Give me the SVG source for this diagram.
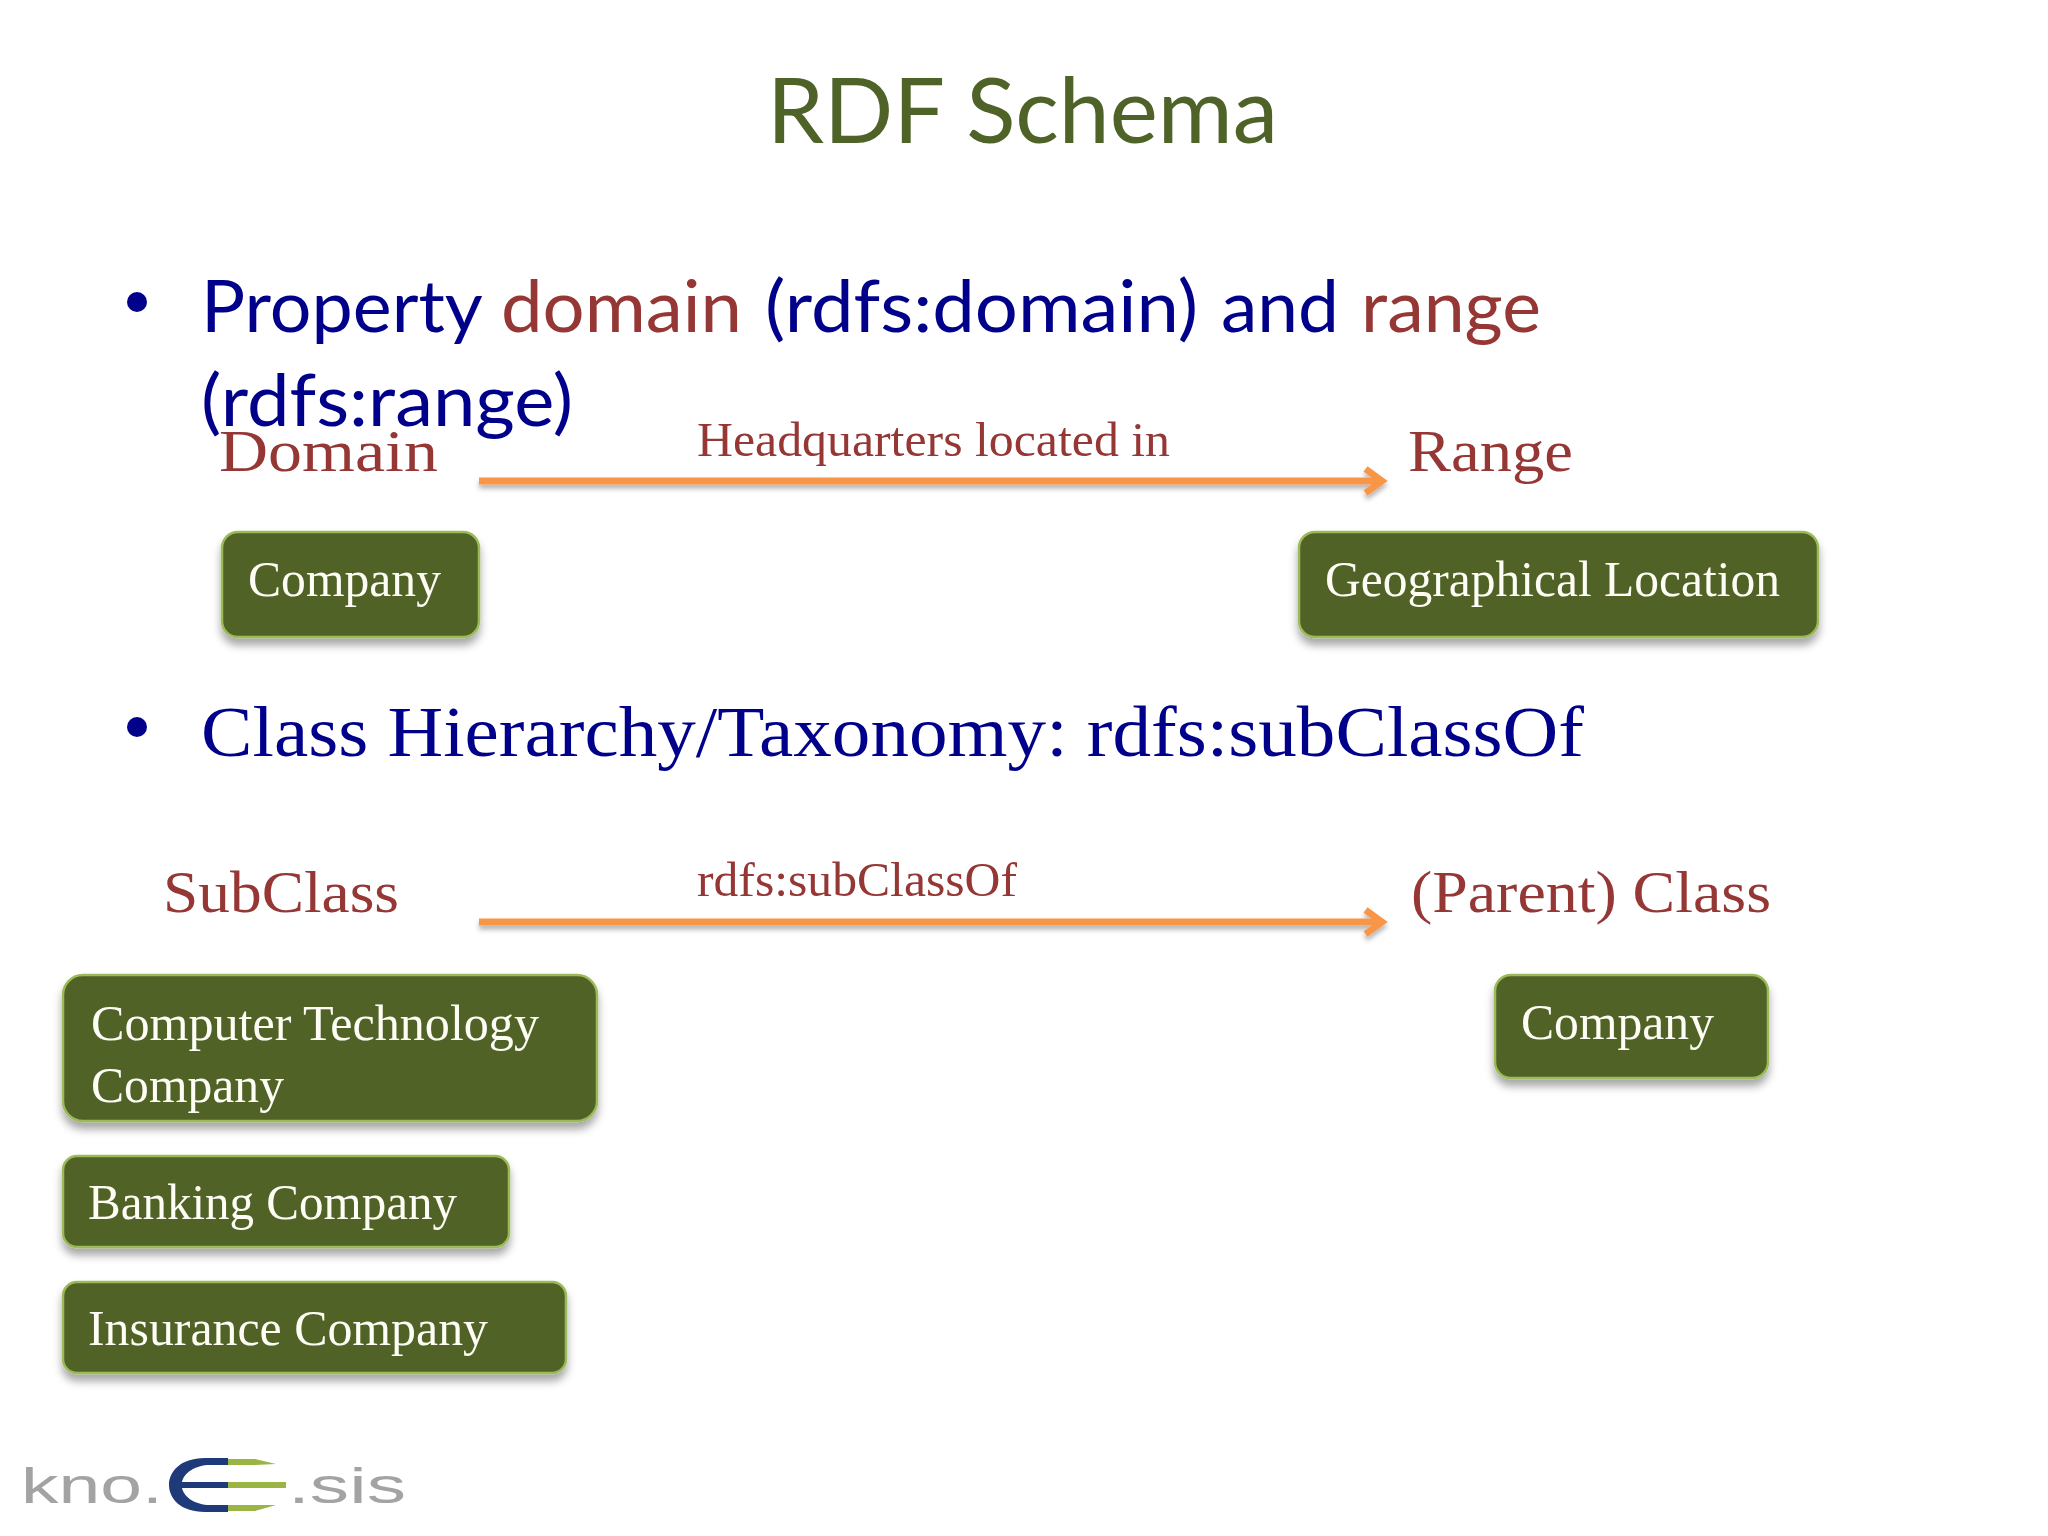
<svg xmlns="http://www.w3.org/2000/svg" width="2048" height="1536" viewBox="0 0 2048 1536">
<defs>
<style>
.sans{font-family:Lato,"Open Sans",sans-serif}
.serif{font-family:"Liberation Serif",serif}
.blue{fill:#00008b}
.red{fill:#953735}
.white{fill:#fdfdf5;font-size:50px}
.box{fill:#516228;stroke:#9bbb59;stroke-width:2.5;filter:url(#sh)}
.arr{stroke:#f79646;stroke-width:7;fill:none;filter:url(#lsh)}
.big{font-size:72px}
.lab{font-size:60px}
.small{font-size:48px}
.logo{font-family:"Liberation Sans",sans-serif;font-size:50px;fill:#a3a3a3}
</style>
<filter id="sh" x="-10%" y="-15%" width="120%" height="140%"><feDropShadow dx="0" dy="7" stdDeviation="4" flood-color="#000" flood-opacity=".35"/></filter>
<filter id="lsh" filterUnits="userSpaceOnUse" x="0" y="0" width="2048" height="1536"><feDropShadow dx="0" dy="4" stdDeviation="2.5" flood-color="#000" flood-opacity=".3"/></filter>
<marker id="ah" viewBox="0 0 20 20" refX="16" refY="10" markerWidth="30" markerHeight="30" markerUnits="userSpaceOnUse" orient="auto"><path d="M5 2 L16 10 L5 18" fill="none" stroke="#f79646" stroke-width="4.5"/></marker>
</defs>
<rect width="2048" height="1536" fill="#fff"/>
<text id="title" class="sans" x="767" y="143" font-size="92" fill="#4f6228" textLength="511" lengthAdjust="spacingAndGlyphs">RDF Schema</text>
<g id="bullets" class="sans blue">
<circle cx="137" cy="302" r="10" fill="#00008b"/>
<text class="big" x="201" y="332"><tspan x="201" textLength="280" lengthAdjust="spacingAndGlyphs">Property</tspan> <tspan class="red" x="501" textLength="241" lengthAdjust="spacingAndGlyphs">domain</tspan> <tspan x="765" textLength="433" lengthAdjust="spacingAndGlyphs">(rdfs:domain)</tspan> <tspan x="1221" textLength="118" lengthAdjust="spacingAndGlyphs">and</tspan> <tspan class="red" x="1361" textLength="180" lengthAdjust="spacingAndGlyphs">range</tspan></text>
<text class="big" x="201" y="426" textLength="372" lengthAdjust="spacingAndGlyphs">(rdfs:range)</text>
<circle cx="137" cy="727" r="10" fill="#00008b"/>
<text class="big serif" x="201" y="756" textLength="1383" lengthAdjust="spacingAndGlyphs">Class Hierarchy/Taxonomy: rdfs:subClassOf</text>
</g>
<g id="connectors">
<path class="arr" d="M479 481 H1382" marker-end="url(#ah)"/>
<path class="arr" d="M479 922 H1382" marker-end="url(#ah)"/>
</g>
<g id="labels" class="serif red">
<text class="lab" x="219" y="471" textLength="219" lengthAdjust="spacingAndGlyphs">Domain</text>
<text class="small" x="697" y="456" textLength="473" lengthAdjust="spacingAndGlyphs">Headquarters located in</text>
<text class="lab" x="1408" y="471" textLength="165" lengthAdjust="spacingAndGlyphs">Range</text>
<text class="lab" x="163" y="912" textLength="236" lengthAdjust="spacingAndGlyphs">SubClass</text>
<text class="small" x="697" y="896" textLength="320" lengthAdjust="spacingAndGlyphs">rdfs:subClassOf</text>
<text class="lab" x="1411" y="912" textLength="360" lengthAdjust="spacingAndGlyphs">(Parent) Class</text>
</g>
<g id="node-company-domain">
<rect class="box" x="222" y="532" width="257" height="105" rx="16"/>
<text class="serif white" x="248" y="596" textLength="193" lengthAdjust="spacingAndGlyphs">Company</text>
</g>
<g id="node-geo">
<rect class="box" x="1299" y="532" width="519" height="105" rx="16"/>
<text class="serif white" x="1325" y="596" textLength="455" lengthAdjust="spacingAndGlyphs">Geographical Location</text>
</g>
<g id="node-computer">
<rect class="box" x="63" y="975" width="534" height="146" rx="20"/>
<text class="serif white" x="91" y="1040" textLength="448" lengthAdjust="spacingAndGlyphs">Computer Technology</text>
<text class="serif white" x="91" y="1102" textLength="193" lengthAdjust="spacingAndGlyphs">Company</text>
</g>
<g id="node-company-parent">
<rect class="box" x="1495" y="975" width="273" height="103" rx="16"/>
<text class="serif white" x="1521" y="1039" textLength="193" lengthAdjust="spacingAndGlyphs">Company</text>
</g>
<g id="node-banking">
<rect class="box" x="63" y="1156" width="446" height="91" rx="14"/>
<text class="serif white" x="88" y="1219" textLength="369" lengthAdjust="spacingAndGlyphs">Banking Company</text>
</g>
<g id="node-insurance">
<rect class="box" x="63" y="1282" width="503" height="91" rx="14"/>
<text class="serif white" x="88" y="1345" textLength="400" lengthAdjust="spacingAndGlyphs">Insurance Company</text>
</g>
<g id="logo">
<text class="logo" x="21" y="1503" textLength="142" lengthAdjust="spacingAndGlyphs">kno.</text>
<text class="logo" x="288" y="1503" textLength="118" lengthAdjust="spacingAndGlyphs">.sis</text>
<path d="M228 1458 H205 C180 1458 169 1472 169 1485 C169 1498 180 1512 205 1512 H228 V1505 H210 C195 1505 184 1497 182 1488 H228 V1482 H182 C184 1473 195 1465 210 1465 H228Z" fill="#1f3a78"/>
<path d="M228 1459 H255 L276 1464 L255 1465 H228Z M228 1482 H286 V1488 H228Z M228 1505 H262 L276 1505 L255 1511 H228Z" fill="#9bb544"/>
</g>
</svg>
